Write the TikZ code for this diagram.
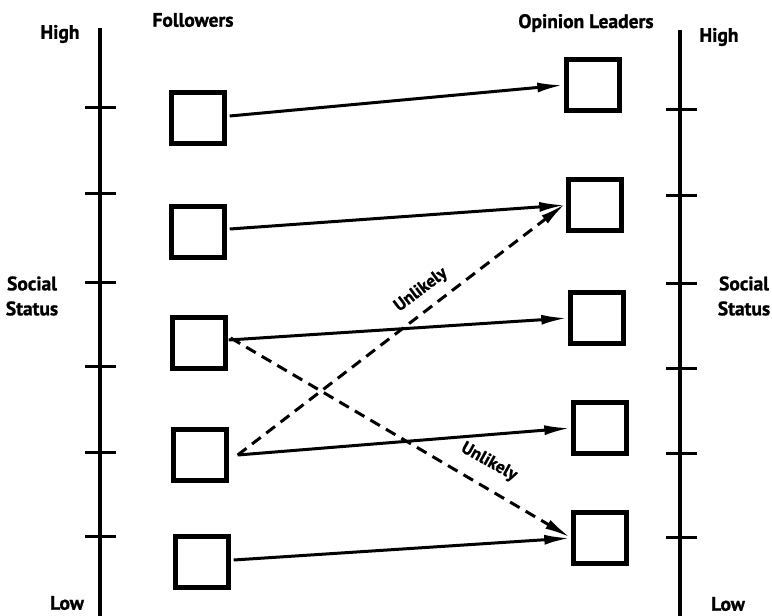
\documentclass[tikz,border=0pt]{standalone}
\usepackage{fontspec}
\setmainfont{PT Sans Bold}[FakeBold=1.2]
\usetikzlibrary{arrows.meta}
\begin{document}
\begin{tikzpicture}[x=1pt,y=-1pt,
  box/.style={draw,line width=4.4pt,minimum width=53pt,minimum height=51pt,inner sep=0pt},
  axis/.style={line width=3.2pt},
  tick/.style={line width=3pt},
  lbl/.style={font=\fontsize{19.5}{25}\selectfont,inner sep=0pt,align=center},
  conn/.style={line width=3pt,-{Latex[length=26pt,width=10pt]},shorten >=1pt},
  unl/.style={conn,dash pattern=on 11pt off 7pt}]
\useasboundingbox (0,0) rectangle (772,616);
% axes
\draw[axis] (100,28) -- (100,616);
\draw[axis] (680,30) -- (680,616);
\foreach \y in {107,193,282,366,452,536}{\draw[tick] (85,\y) -- (116,\y);}
\foreach \y in {109,195,283,368,453,537}{\draw[tick] (666,\y) -- (697,\y);}
% labels
\node[lbl] (hl) at (60,34) {High};
\node[lbl] (hr) at (719,37) {High};
\node[lbl] (ll) at (67,603) {Low};
\node[lbl] (lr) at (728,604) {Low};
\node[lbl] (sl) at (32,296) {Social\\Status};
\node[lbl] (sr) at (744,296) {Social\\Status};
\node[lbl] (fo) at (193,20) {Followers};
\node[lbl] (op) at (586,23) {Opinion Leaders};
% boxes
\node[box] (L1) at (198,118) {};
\node[box] (L2) at (198,232) {};
\node[box] (L3) at (199,343) {};
\node[box] (L4) at (200,455) {};
\node[box] (L5) at (202,562) {};
\node[box] (R1) at (593,85) {};
\node[box] (R2) at (595,205) {};
\node[box] (R3) at (597,318) {};
\node[box] (R4) at (600,428) {};
\node[box] (R5) at (600,538) {};
% connectors
\draw[conn] ([xshift=3pt,yshift=2pt]L1.east) -- (R1.west);
\draw[conn] ([xshift=3pt,yshift=3pt]L2.east) -- (R2.west);
\draw[conn] ([xshift=1pt,yshift=3pt]L3.east) -- (R3.west);
\draw[conn] ([xshift=9pt]L4.east) -- (R4.west);
\draw[conn] ([xshift=3pt,yshift=2pt]L5.east) -- (R5.west);
\draw[unl] ([xshift=3pt,yshift=5pt]L3.east) -- (R5.west);
\draw[unl] ([xshift=9pt]L4.east) -- ([yshift=2pt]R2.west);
\node[lbl,rotate=37,font=\fontsize{17.5}{20}\selectfont] (u1) at (421,290) {Unlikely};
\node[lbl,rotate=-29,font=\fontsize{17.5}{20}\selectfont] (u2) at (489,462) {Unlikely};
\end{tikzpicture}
\end{document}
